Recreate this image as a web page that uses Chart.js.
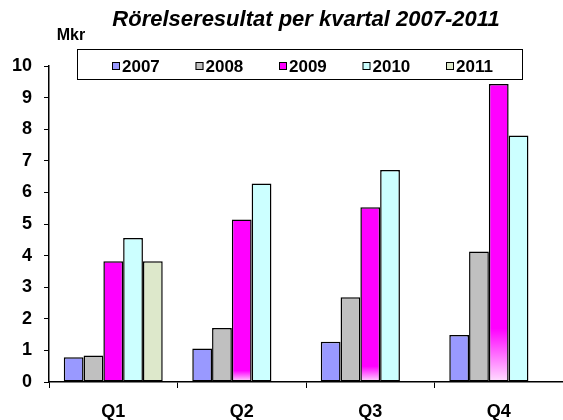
<!DOCTYPE html>
<html>
<head>
<meta charset="utf-8">
<script src="https://cdn.jsdelivr.net/npm/chart.js@4"></script>
<style>
  html, body { margin: 0; padding: 0; background: #fff; }
  #wrap { width: 563px; height: 420px; position: relative; }
</style>
</head>
<body>
<div id="wrap"><canvas id="chart"></canvas></div>
<script>
// === Données ===
const quarters = ['Q1', 'Q2', 'Q3', 'Q4'];
const years = ['2007', '2008', '2009', '2010', '2011'];
const v2007 = [0.78, 1.06, 1.27, 1.49];
const v2008 = [0.84, 1.71, 2.68, 4.13];
const v2009 = [3.82, 5.14, 5.53, 9.43];
const v2010 = [4.56, 6.28, 6.71, 7.80];
const v2011 = [3.82, null, null, null];
const yTicks = [0, 1, 2, 3, 4, 5, 6, 7, 8, 9, 10];

const titleText = 'Rörelseresultat per kvartal 2007-2011';
const unitText = 'Mkr';

// === Styles ===
const FONT = '"Liberation Sans", Arial, sans-serif';
const colors = ['#9999ff', '#c0c0c0', '#ff00ff', '#ccffff', '#dde8cb'];
const fadeFrac = [0, 0.07, 0.09, 0.18]; // pale bottom of the 2009 bars

function fill2009(c) {
    const chart = c.chart;
    const frac = fadeFrac[c.dataIndex] || 0;
    if (!chart.chartArea || !frac || c.raw == null) return colors[2];
    const y = chart.scales.y;
    const base = y.getPixelForValue(0);
    const top = y.getPixelForValue(c.raw);
    const g = chart.ctx.createLinearGradient(0, base, 0, top);
    g.addColorStop(0, '#ffe0ff');
    g.addColorStop(frac, '#ff00ff');
    g.addColorStop(1, '#ff00ff');
    return g;
}

const seriesValues = [v2007, v2008, v2009, v2010, v2011];
const datasets = years.map((yr, i) => ({
    label: yr,
    data: seriesValues[i],
    backgroundColor: i === 2 ? fill2009 : colors[i],
    borderColor: '#000',
    borderWidth: 1.5,
    borderSkipped: false,
    categoryPercentage: 0.77,
    barPercentage: 1.0
}));

// === Titre, unité et légende ===
const decorPlugin = {
    id: 'decor',
    afterDraw(chart) {
        const ctx = chart.ctx;
        const area = chart.chartArea;
        ctx.save();
        ctx.fillStyle = '#000';
        ctx.textBaseline = 'middle';

        ctx.font = 'italic bold 22px ' + FONT;
        ctx.textAlign = 'center';
        ctx.fillText(titleText, (area.left + area.right) / 2, 20);

        ctx.font = 'bold 16px ' + FONT;
        ctx.fillText(unitText, 71, 36);

        // cadre de la légende
        ctx.strokeStyle = '#000';
        ctx.lineWidth = 1;
        ctx.strokeRect(77.5, 49.5, 445, 30);

        ctx.textAlign = 'left';
        ctx.font = 'bold 17px ' + FONT;
        chart.data.datasets.forEach((ds, i) => {
            const x = 112 + i * 83.5;
            ctx.fillStyle = colors[i];
            ctx.fillRect(x, 62, 8, 8);
            ctx.strokeRect(x + 0.5, 62.5, 7, 7);
            ctx.fillStyle = '#000';
            ctx.fillText(ds.label, x + 10, 67);
        });
        ctx.restore();
    }
};

new Chart(document.getElementById('chart'), {
    type: 'bar',
    data: { labels: quarters, datasets: datasets },
    options: {
        responsive: true,
        maintainAspectRatio: false,
        animation: false,
        layout: { padding: { left: 0, right: 0, top: 66, bottom: 0 } },
        plugins: {
            legend: { display: false },
            title: { display: false },
            tooltip: { enabled: false }
        },
        scales: {
            x: {
                afterFit: s => { s.height = 38; },
                grid: { display: true, drawOnChartArea: false, drawTicks: true, tickLength: 6, color: '#000', offset: true },
                border: { display: true, color: '#000', width: 1.5 },
                ticks: { color: '#000', padding: 15, font: { family: FONT, size: 18, weight: 'bold', lineHeight: 1 } }
            },
            y: {
                min: 0,
                max: 10,
                afterFit: s => { s.width = 49; },
                afterBuildTicks: axis => { axis.ticks = yTicks.map(v => ({ value: v })); },
                grid: { display: true, drawOnChartArea: false, drawTicks: true, tickLength: 5, color: '#000' },
                border: { display: true, color: '#000', width: 1.5 },
                ticks: { color: '#000', padding: 12, font: { family: FONT, size: 18, weight: 'bold' } }
            }
        }
    },
    plugins: [decorPlugin]
});
</script>
</body>
</html>
